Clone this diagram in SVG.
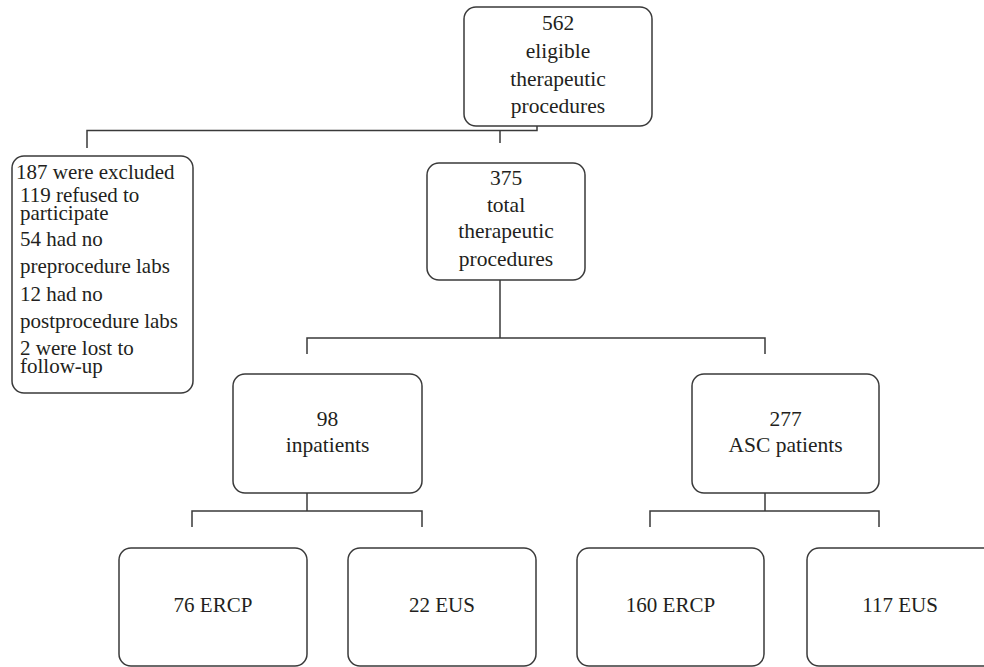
<svg xmlns="http://www.w3.org/2000/svg" width="984" height="667" viewBox="0 0 984 667">
<style>
.box{fill:#fff;stroke:#3a3a3a;stroke-width:1.5}
.ln{fill:none;stroke:#3a3a3a;stroke-width:1.5}
.t{font-family:'Liberation Serif','DejaVu Serif','Times New Roman',serif;font-size:21px;fill:#231f20}
.c{text-anchor:middle}
.b{font-size:21.5px}
</style>
<rect width="984" height="667" fill="#fff"/>
<g id="connectors">
<polyline class="ln" points="537,126 537,130.5 87,130.5 87,148"/>
<line class="ln" x1="500" y1="130.5" x2="500" y2="143"/>
<line class="ln" x1="500" y1="280" x2="500" y2="338"/>
<polyline class="ln" points="307,354 307,338 765,338 765,354"/>
<line class="ln" x1="307" y1="493" x2="307" y2="511"/>
<polyline class="ln" points="192,527 192,511 422,511 422,527"/>
<line class="ln" x1="765" y1="493" x2="765" y2="511"/>
<polyline class="ln" points="650,527 650,511 879,511 879,527"/>
</g>
<g id="n562" class="t b">
<rect class="box" x="464" y="7" width="188" height="119" rx="12"/>
<text class="c" x="558" y="30">562</text>
<text class="c" x="558" y="58">eligible</text>
<text class="c" x="558" y="86">therapeutic</text>
<text class="c" x="558" y="113">procedures</text>
</g>
<g id="excluded" class="t">
<rect class="box" x="12" y="156" width="181" height="237" rx="12"/>
<text x="16" y="179">187 were excluded</text>
<text x="20" y="202">119 refused to<tspan x="20" y="220">participate</tspan></text>
<text x="20" y="246">54 had no</text>
<text x="20" y="273">preprocedure labs</text>
<text x="20" y="301">12 had no</text>
<text x="20" y="328">postprocedure labs</text>
<text x="20" y="355">2 were lost to<tspan x="20" y="373">follow-up</tspan></text>
</g>
<g id="n375" class="t b">
<rect class="box" x="427" y="163" width="158" height="117" rx="12"/>
<text class="c" x="506" y="185">375</text>
<text class="c" x="506" y="212">total</text>
<text class="c" x="506" y="238">therapeutic</text>
<text class="c" x="506" y="266">procedures</text>
</g>
<g id="inpatients" class="t b">
<rect class="box" x="233" y="374" width="189" height="119" rx="12"/>
<text class="c" x="327.5" y="426">98</text>
<text class="c" x="327.5" y="452">inpatients</text>
</g>
<g id="asc" class="t b">
<rect class="box" x="692" y="374" width="187" height="119" rx="12"/>
<text class="c" x="785.5" y="426">277</text>
<text class="c" x="785.5" y="452">ASC patients</text>
</g>
<g id="ercp76" class="t">
<rect class="box" x="119" y="548" width="188" height="118" rx="12"/>
<text class="c" x="213" y="612">76 ERCP</text>
</g>
<g id="eus22" class="t">
<rect class="box" x="348" y="548" width="188" height="118" rx="12"/>
<text class="c" x="442" y="612">22 EUS</text>
</g>
<g id="ercp160" class="t">
<rect class="box" x="577" y="548" width="187" height="118" rx="12"/>
<text class="c" x="670.5" y="612">160 ERCP</text>
</g>
<g id="eus117" class="t">
<rect class="box" x="807" y="548" width="188" height="118" rx="12"/>
<text class="c" x="900" y="612">117 EUS</text>
</g>
</svg>
